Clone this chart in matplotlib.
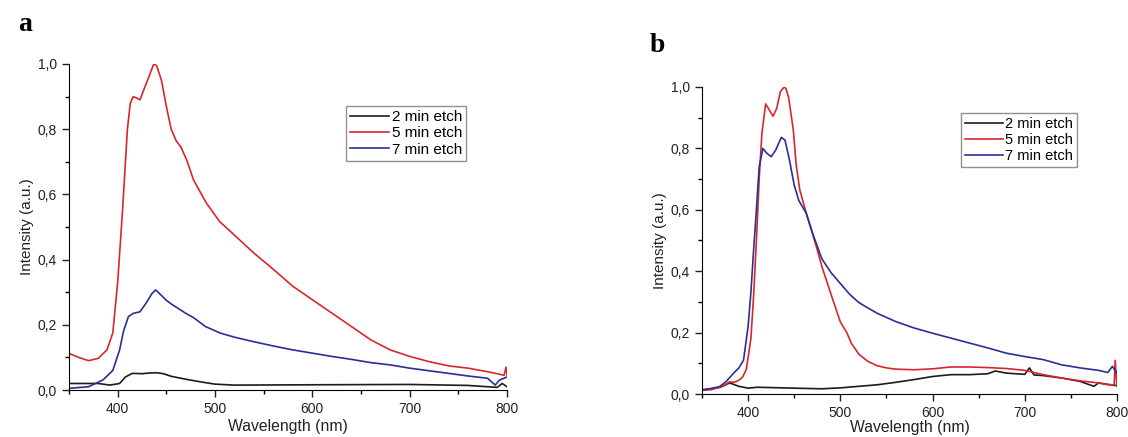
import matplotlib.pyplot as plt
from matplotlib.ticker import MultipleLocator, FuncFormatter

plt.rcParams['font.family'] = ['Liberation Sans', 'DejaVu Sans']

# panel a: wavelength (nm) / intensity (a.u.)
wl_a_red = [350, 360, 370, 380, 389, 395, 400, 405, 410, 413, 416, 420, 423, 428, 432, 437, 440, 445, 450, 455,
            460, 465, 471, 478, 491, 505, 520, 540, 560, 580, 600, 620, 640, 660, 680, 700, 720, 740, 760, 780,
            790, 797, 799, 800]
a_red = [0.112, 0.1, 0.09, 0.097, 0.123, 0.175, 0.33, 0.55, 0.80, 0.88, 0.90, 0.895, 0.89, 0.93, 0.96, 1.0, 0.995,
         0.95, 0.87, 0.80, 0.765, 0.745, 0.705, 0.644, 0.574, 0.516, 0.475, 0.42, 0.37, 0.318, 0.277, 0.236,
         0.195, 0.154, 0.123, 0.103, 0.087, 0.074, 0.067, 0.056, 0.05, 0.045, 0.07, 0.046]

wl_a_blue = [350, 370, 385, 395, 402, 406, 411, 416, 423, 430, 435, 439, 445, 450, 457, 465, 470, 478, 490, 505,
             520, 540, 560, 580, 600, 620, 640, 660, 680, 700, 720, 740, 760, 780, 788, 792, 800]
a_blue = [0.005, 0.01, 0.031, 0.06, 0.123, 0.18, 0.225, 0.235, 0.24, 0.27, 0.295, 0.307, 0.29, 0.275, 0.26,
          0.245, 0.235, 0.222, 0.195, 0.175, 0.162, 0.148, 0.135, 0.123, 0.113, 0.103, 0.094, 0.084, 0.077,
          0.067, 0.059, 0.051, 0.043, 0.036, 0.015, 0.03, 0.04]

wl_a_black = [350, 380, 392, 402, 408, 415, 425, 432, 440, 447, 455, 470, 485, 500, 520, 600, 700, 760, 790, 795,
              800]
a_black = [0.02, 0.02, 0.015, 0.02, 0.04, 0.051, 0.05, 0.052, 0.053, 0.05, 0.042, 0.033, 0.025, 0.018, 0.015,
           0.016, 0.017, 0.014, 0.008, 0.02, 0.01]

# panel b
wl_b_red = [350, 360, 370, 375, 380, 385, 390, 394, 398, 403, 406, 409, 412, 415, 419, 422, 427, 431, 435, 439,
            441, 444, 449, 452, 456, 463, 470, 474, 480, 492, 500, 507, 512, 520, 530, 540, 550, 560, 580, 600,
            620, 640, 660, 680, 700, 720, 740, 760, 780, 790, 797, 798, 800]
b_red = [0.012, 0.014, 0.023, 0.03, 0.04, 0.038, 0.045, 0.055, 0.08, 0.18, 0.32, 0.50, 0.70, 0.85, 0.945, 0.93,
         0.905, 0.93, 0.985, 1.0, 0.995, 0.965, 0.86, 0.75, 0.665, 0.59, 0.52, 0.48, 0.415, 0.306, 0.235, 0.2,
         0.165, 0.13, 0.106, 0.092, 0.085, 0.081, 0.079, 0.082, 0.088, 0.088, 0.086, 0.083, 0.077, 0.063,
         0.052, 0.043, 0.036, 0.03, 0.03, 0.11, 0.025]

wl_b_blue = [350, 360, 369, 376, 384, 390, 395, 400, 403, 406, 409, 412, 416, 420, 425, 430, 436, 440, 445, 450,
             455, 463, 470, 480, 490, 500, 510, 520, 530, 540, 560, 580, 600, 620, 640, 660, 680, 700, 720, 740,
             760, 780, 790, 795, 800]
b_blue = [0.014, 0.018, 0.024, 0.04, 0.067, 0.085, 0.11, 0.22, 0.33, 0.47, 0.60, 0.74, 0.80, 0.785, 0.773,
          0.795, 0.836, 0.827, 0.76, 0.68, 0.63, 0.589, 0.523, 0.44, 0.395, 0.36, 0.325, 0.298, 0.28, 0.263,
          0.236, 0.215, 0.198, 0.182, 0.166, 0.15, 0.133, 0.122, 0.112, 0.095, 0.085, 0.077, 0.07, 0.09, 0.068]

wl_b_black = [350, 370, 380, 390, 400, 410, 450, 480, 500, 520, 540, 560, 580, 600, 620, 640, 660, 668, 680, 700,
              705, 710, 720, 740, 760, 775, 780, 800]
b_black = [0.012, 0.022, 0.036, 0.025, 0.019, 0.022, 0.019, 0.017, 0.02, 0.025, 0.03, 0.038, 0.047, 0.057, 0.063,
           0.063, 0.066, 0.075, 0.068, 0.064, 0.085, 0.062, 0.06, 0.052, 0.041, 0.025, 0.036, 0.027]

labels = ["2 min etch", "5 min etch", "7 min etch"]
c_black, c_red, c_blue = "#1c1c1c", "#d9262e", "#2a2f96"

comma = FuncFormatter(lambda v, p: f"{v:.1f}".replace(".", ","))


def style_axes(ax, xpad=2):
    ax.set_xlim(350, 800)
    ax.set_ylim(0, 1.0)
    ax.spines["top"].set_visible(False)
    ax.spines["right"].set_visible(False)
    ax.xaxis.set_major_locator(MultipleLocator(100))
    ax.xaxis.set_minor_locator(MultipleLocator(50))
    ax.yaxis.set_major_locator(MultipleLocator(0.2))
    ax.yaxis.set_minor_locator(MultipleLocator(0.1))
    ax.yaxis.set_major_formatter(comma)
    ax.tick_params(which="major", direction="out", length=5, width=1, labelsize=10, colors="#222222")
    ax.tick_params(which="minor", direction="out", length=3, width=1)
    ax.set_xlabel("Wavelength (nm)", fontsize=11.3, color="#222222", labelpad=xpad)
    ax.set_ylabel("Intensity (a.u.)", fontsize=11, color="#222222", labelpad=3)


fig = plt.figure(figsize=(11.28, 4.37), dpi=100)

ax1 = fig.add_axes([69 / 1128, 1 - 390 / 437, 438 / 1128, 326 / 437])
ax1.plot(wl_a_black, a_black, color=c_black, lw=1.2, label=labels[0])
ax1.plot(wl_a_red, a_red, color=c_red, lw=1.2, label=labels[1])
ax1.plot(wl_a_blue, a_blue, color=c_blue, lw=1.2, label=labels[2])
style_axes(ax1)
ax1.legend(loc="upper left", bbox_to_anchor=(0.632, 0.87), borderaxespad=0, fontsize=11,
           fancybox=False, edgecolor="#777777", handlelength=2.6, handletextpad=0.15, labelspacing=0.15,
           borderpad=0.25)

ax2 = fig.add_axes([702 / 1128, 1 - 394 / 437, 415 / 1128, 307 / 437])
ax2.plot(wl_b_black, b_black, color=c_black, lw=1.2, label=labels[0])
ax2.plot(wl_b_red, b_red, color=c_red, lw=1.2, label=labels[1])
ax2.plot(wl_b_blue, b_blue, color=c_blue, lw=1.2, label=labels[2])
style_axes(ax2, xpad=0)
ax2.legend(loc="upper left", bbox_to_anchor=(0.625, 0.915), borderaxespad=0, fontsize=10.5,
           fancybox=False, edgecolor="#777777", handlelength=2.6, handletextpad=0.15, labelspacing=0.15,
           borderpad=0.25)

fig.text(25 / 1128, 1 - 31 / 437, "a", family="Liberation Serif", weight="bold", fontsize=20, ha="center")
fig.text(657 / 1128, 1 - 52 / 437, "b", family="Liberation Serif", weight="bold", fontsize=20, ha="center")

plt.savefig("out.png", dpi=100)
